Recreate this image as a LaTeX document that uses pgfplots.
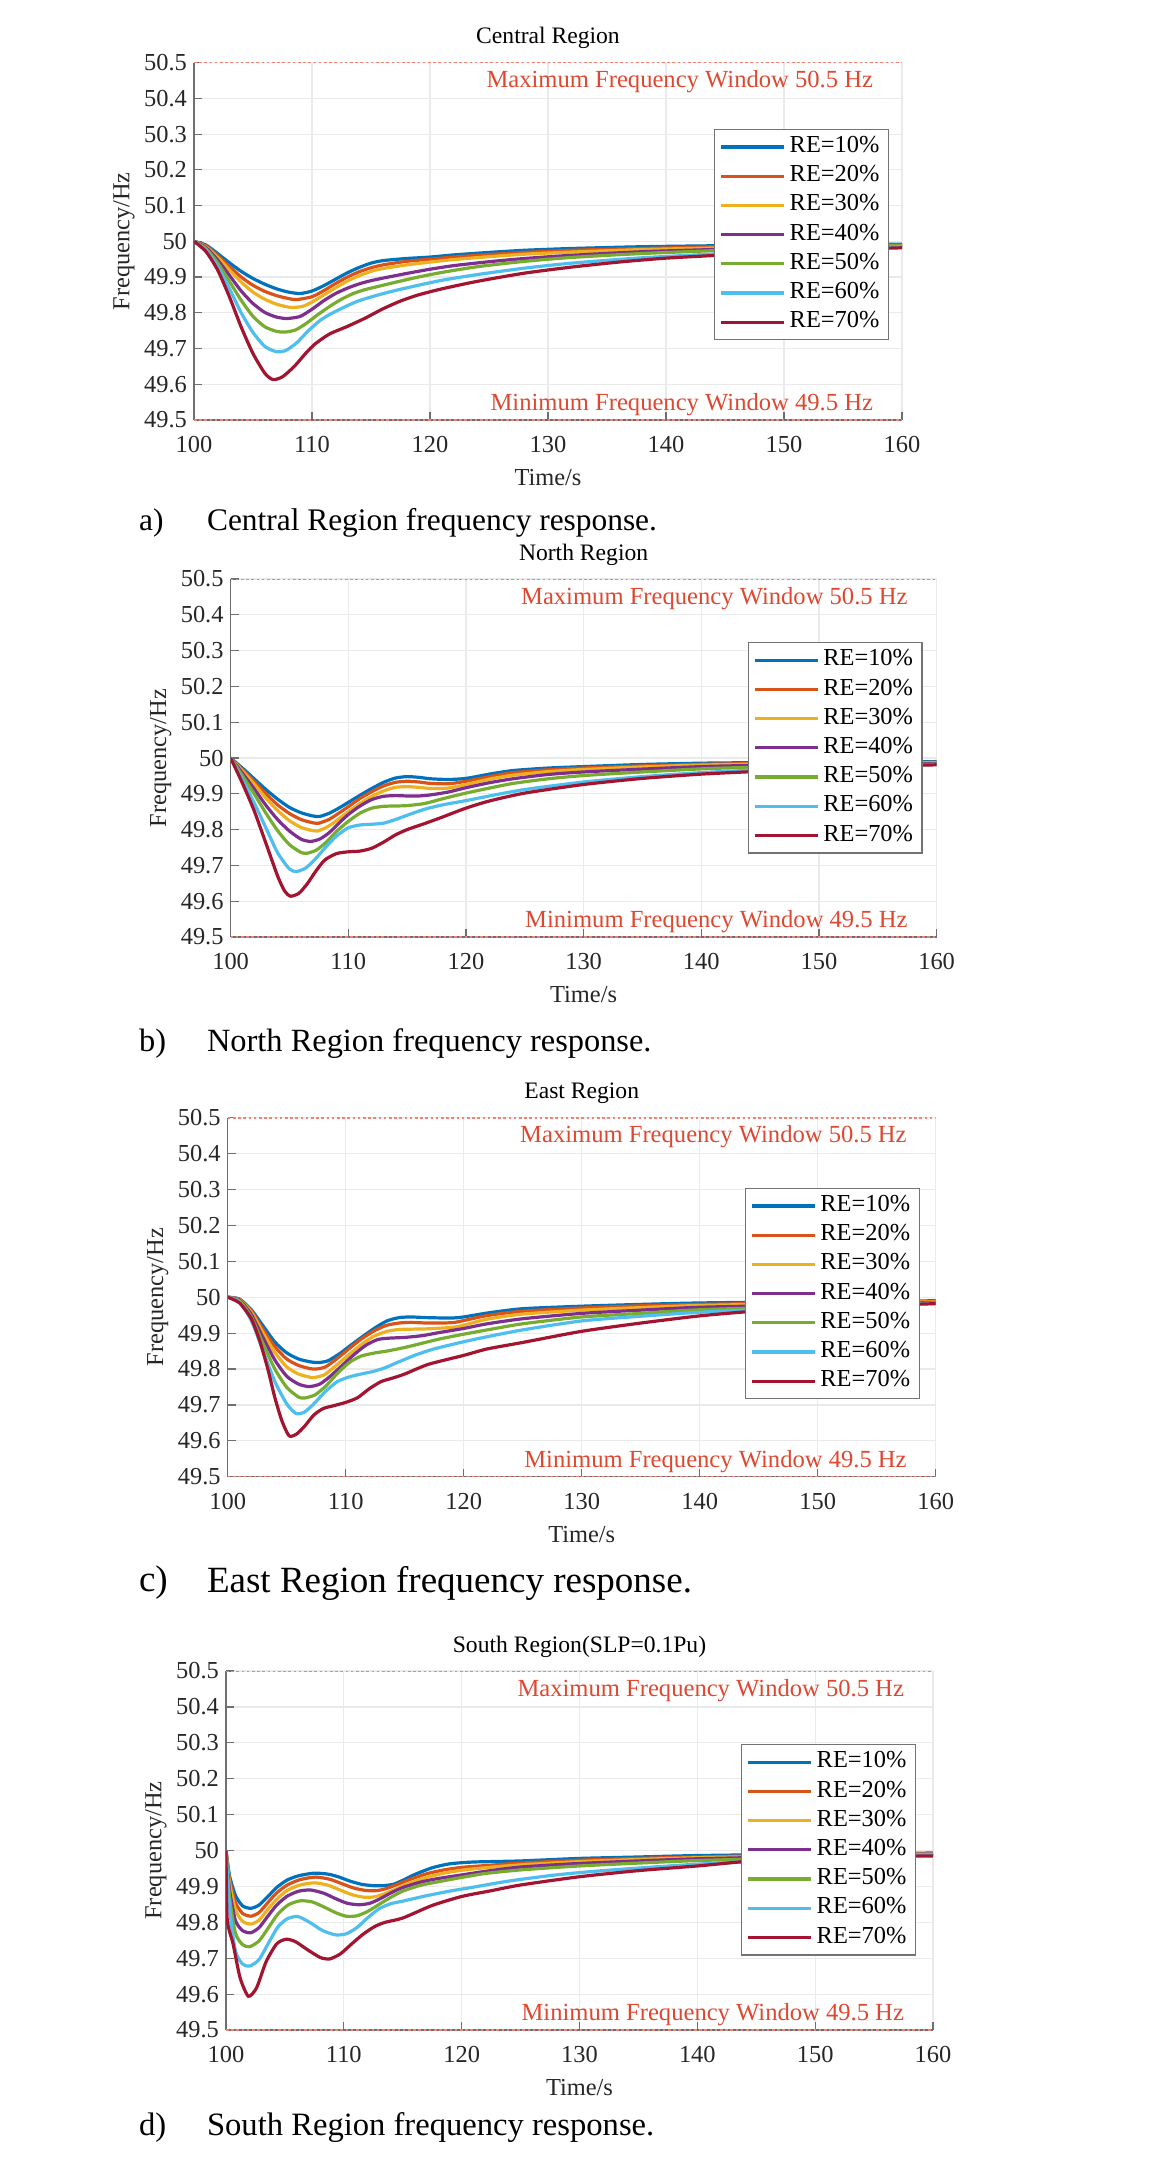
\documentclass[border=0pt]{standalone}
\usepackage{fontspec}
\setmainfont{Liberation Serif}
\usepackage{pgfplots}
\pgfplotsset{compat=1.18}
\definecolor{c1}{rgb}{0,0.447,0.741}
\definecolor{c2}{rgb}{0.85,0.325,0.098}
\definecolor{c3}{rgb}{0.929,0.694,0.125}
\definecolor{c4}{rgb}{0.494,0.184,0.556}
\definecolor{c5}{rgb}{0.466,0.674,0.188}
\definecolor{c6}{rgb}{0.301,0.745,0.933}
\definecolor{c7}{rgb}{0.635,0.078,0.184}
\definecolor{annot}{RGB}{222,72,48}
\definecolor{winline}{RGB}{240,130,120}
\definecolor{gridc}{RGB}{234,234,234}
\definecolor{axc}{RGB}{110,110,110}
\newcommand{\fs}{\fontsize{12.2}{14}\selectfont}
\pgfplotsset{
  cur/.style={line width=1.6pt, smooth, tension=0.4},
  win/.style={winline, line width=0.8pt, dash pattern=on 1.3pt off 1.3pt, forget plot},
  freq/.style={
    scale only axis, xmin=100, xmax=160, ymin=49.5, ymax=50.5,
    xtick={100,110,120,130,140,150,160},
    ytick={49.5,49.6,49.7,49.8,49.9,50,50.1,50.2,50.3,50.4,50.5},
    axis x line=bottom, axis y line=left,
    axis line style={-, draw=axc, line width=0.6pt},
    tick align=inside, major tick length=4pt, tick style={axc, line width=0.6pt},
    grid=major, major grid style={gridc, line width=0.6pt},
    clip mode=individual,
    /pgf/number format/assume math mode=true,
    ticklabel style={font=\fs, text=black!85},
    xticklabel style={yshift=-4.5pt},
    xlabel={Time/s}, ylabel={Frequency/Hz},
    every axis x label/.style={at={(axis description cs:0.5,-0.16)}, anchor=center, font=\fs, text=black!85},
    every axis y label/.style={at={(axis description cs:-0.099,0.5)}, rotate=90, anchor=center, font=\fs, text=black!85},
    every axis title/.style={at={(axis description cs:0.5,1)}, anchor=center, yshift=12.3pt, font=\fontsize{11.8}{14}\selectfont},
    legend cell align=left,
    legend image code/.code={\draw[##1] (0pt,0pt) -- (31.5pt,0pt);},
    legend style={anchor=north east, draw=black!55, line width=0.6pt, fill=white, font=\fs,
      inner xsep=2.5pt, inner ysep=1.5pt, row sep=0pt,
      nodes={inner xsep=2pt, inner ysep=1.5pt, text height=8.6pt, text depth=3pt}},
  },
}
\newcommand{\annots}{%
  \node[anchor=east, text=annot, font=\fontsize{12.3}{14}\selectfont] at (rel axis cs:1,1) [xshift=-11pt, yshift=-9.6pt] {Maximum Frequency Window 50.5 Hz};
  \node[anchor=east, text=annot, font=\fontsize{12.3}{14}\selectfont] at (rel axis cs:1,0) [xshift=-11pt, yshift=7.5pt] {Minimum Frequency Window 49.5 Hz};
  \addplot[win] coordinates {(100,50.5) (160,50.5)};
  \addplot[win] coordinates {(100,49.5) (160,49.5)};
  \legend{RE=10\%,RE=20\%,RE=30\%,RE=40\%,RE=50\%,RE=60\%,RE=70\%}%
}
\begin{document}
\begin{tikzpicture}
\useasboundingbox (0,0) rectangle (578pt,-1083.5pt);

% ---------------- a) Central
\begin{axis}[freq, at={(97pt,-210pt)}, anchor=south west, width=354pt, height=178.65pt,
  title={Central Region}, legend style={at={(1,1)}, xshift=-6.5pt, yshift=-33pt}]
\addplot[c1,cur] coordinates {(100,50)(101,49.99)(102,49.966)(103,49.94)(104,49.916)(105,49.896)(106,49.88)(107,49.867)(108,49.858)(109,49.854)(110,49.861)(111,49.876)(112,49.894)(113,49.912)(114,49.927)(115,49.939)(116,49.946)(118,49.952)(120,49.956)(122,49.962)(125,49.969)(128,49.975)(132,49.98)(138,49.985)(145,49.988)(152,49.99)(160,49.992)};
\addplot[c2,cur] coordinates {(100,50)(101,49.988)(102,49.96)(103,49.93)(104,49.9)(105,49.877)(106,49.86)(107,49.848)(108,49.84)(108.7,49.837)(110,49.845)(111,49.862)(112,49.882)(113,49.9)(114,49.915)(115,49.926)(116,49.934)(118,49.944)(120,49.95)(122,49.956)(125,49.963)(128,49.969)(132,49.975)(138,49.98)(145,49.985)(152,49.988)(160,49.99)};
\addplot[c3,cur] coordinates {(100,50)(101,49.985)(102,49.955)(103,49.92)(104,49.886)(105,49.858)(106,49.838)(107,49.824)(108.2,49.815)(109.2,49.818)(110,49.83)(111,49.85)(112,49.87)(113,49.889)(114,49.904)(115,49.916)(116,49.924)(118,49.934)(120,49.942)(122,49.949)(125,49.957)(128,49.964)(132,49.97)(138,49.977)(145,49.982)(152,49.986)(160,49.988)};
\addplot[c4,cur] coordinates {(100,50)(101,49.983)(102,49.948)(103,49.905)(104,49.861)(105,49.826)(106,49.801)(107,49.788)(107.9,49.784)(109,49.79)(110,49.81)(111,49.834)(112,49.854)(113,49.869)(114,49.881)(115,49.89)(116,49.897)(118,49.91)(120,49.922)(122,49.932)(125,49.943)(128,49.952)(132,49.961)(138,49.971)(145,49.978)(152,49.983)(160,49.987)};
\addplot[c5,cur] coordinates {(100,50)(101,49.98)(102,49.94)(103,49.888)(104,49.835)(105,49.79)(106,49.761)(107,49.748)(107.7,49.746)(108.6,49.752)(109.5,49.77)(110.5,49.795)(111.5,49.818)(112.5,49.838)(113.5,49.854)(114.5,49.865)(115.5,49.873)(117,49.885)(119,49.9)(121,49.913)(124,49.929)(128,49.944)(132,49.955)(138,49.966)(145,49.975)(152,49.982)(160,49.988)};
\addplot[c6,cur] coordinates {(100,50)(101,49.976)(102,49.93)(103,49.868)(104,49.8)(105,49.745)(106,49.706)(107,49.691)(107.8,49.695)(108.7,49.716)(109.7,49.75)(110.7,49.779)(111.7,49.799)(113,49.82)(114,49.834)(115.5,49.849)(117,49.862)(119,49.877)(121,49.891)(124,49.907)(128,49.925)(132,49.939)(138,49.954)(145,49.966)(152,49.976)(160,49.985)};
\addplot[c7,cur] coordinates {(100,50)(101,49.972)(102,49.92)(103,49.845)(104,49.76)(105,49.686)(106,49.631)(106.7,49.613)(107.5,49.621)(108.5,49.65)(109.5,49.688)(110.3,49.714)(111.5,49.741)(113,49.762)(114.5,49.785)(116,49.811)(117.5,49.833)(119,49.85)(121,49.867)(124,49.888)(128,49.911)(132,49.928)(136,49.942)(140,49.953)(145,49.962)(150,49.97)(155,49.977)(160,49.982)};
\annots
\end{axis}

% ---------------- b) North
\begin{axis}[freq, at={(115.3pt,-468.5pt)}, anchor=south west, width=353pt, height=179pt,
  title={North Region}, legend style={at={(1,1)}, xshift=-7pt, yshift=-31.5pt}]
\addplot[c1,cur] coordinates {(100,50)(101,49.972)(102,49.942)(103,49.912)(104,49.885)(105,49.862)(106,49.847)(107,49.838)(107.6,49.837)(108.4,49.846)(109.2,49.86)(110,49.876)(111,49.896)(112,49.915)(113,49.932)(114,49.944)(115,49.948)(116,49.946)(117,49.942)(118.5,49.94)(120,49.943)(122,49.955)(124,49.965)(127,49.972)(130,49.976)(135,49.982)(141,49.986)(150,49.988)(160,49.99)};
\addplot[c2,cur] coordinates {(100,50)(101,49.968)(102,49.935)(103,49.9)(104,49.869)(105,49.845)(106,49.828)(107,49.819)(107.5,49.818)(108.4,49.829)(109.2,49.846)(110,49.864)(111,49.887)(112,49.906)(113,49.922)(114,49.932)(115,49.935)(116,49.933)(117,49.929)(118.5,49.928)(120,49.935)(122,49.948)(124,49.959)(127,49.967)(130,49.972)(135,49.978)(141,49.983)(150,49.986)(160,49.988)};
\addplot[c3,cur] coordinates {(100,50)(101,49.964)(102,49.927)(103,49.888)(104,49.853)(105,49.825)(106,49.806)(107,49.797)(107.4,49.796)(108.3,49.809)(109.2,49.83)(110,49.85)(111,49.873)(112,49.893)(113,49.908)(114,49.918)(115,49.92)(116,49.918)(117,49.915)(118.5,49.916)(120,49.926)(122,49.941)(124,49.952)(127,49.962)(130,49.968)(135,49.975)(141,49.981)(150,49.985)(160,49.987)};
\addplot[c4,cur] coordinates {(100,50)(101,49.958)(102,49.914)(103,49.868)(104,49.828)(105,49.796)(106,49.773)(106.8,49.767)(107.6,49.774)(108.4,49.792)(109.2,49.818)(110,49.842)(111,49.866)(112,49.884)(113,49.893)(114,49.895)(115,49.894)(116,49.894)(117,49.897)(118.5,49.905)(120,49.917)(122,49.931)(124,49.942)(127,49.954)(130,49.961)(135,49.969)(141,49.977)(150,49.982)(160,49.985)};
\addplot[c5,cur] coordinates {(100,50)(101,49.951)(102,49.9)(103,49.846)(104,49.797)(105,49.758)(106,49.736)(106.5,49.734)(107.3,49.743)(108.2,49.767)(109,49.795)(110,49.823)(111,49.846)(112,49.86)(113,49.865)(114,49.866)(115,49.867)(116.5,49.873)(118,49.886)(120,49.902)(122,49.916)(124,49.929)(127,49.942)(130,49.951)(135,49.961)(141,49.971)(150,49.978)(160,49.983)};
\addplot[c6,cur] coordinates {(100,50)(101,49.94)(102,49.875)(103,49.805)(104,49.735)(105,49.69)(105.6,49.683)(106.4,49.693)(107.2,49.718)(108,49.748)(109,49.782)(110,49.805)(111,49.813)(112,49.815)(113,49.818)(114,49.828)(115,49.84)(116.5,49.857)(118,49.869)(120,49.881)(122,49.894)(125,49.912)(130,49.933)(135,49.948)(141,49.961)(150,49.973)(160,49.982)};
\addplot[c7,cur] coordinates {(100,50)(101,49.93)(102,49.853)(103,49.762)(104,49.67)(104.6,49.628)(105.1,49.614)(105.8,49.622)(106.5,49.648)(107.2,49.682)(108,49.715)(109,49.733)(110,49.738)(111,49.74)(112,49.748)(113,49.765)(114,49.785)(115,49.8)(116.5,49.817)(118,49.835)(120,49.86)(122,49.88)(125,49.902)(130,49.926)(135,49.943)(140,49.955)(145,49.963)(150,49.971)(155,49.977)(160,49.981)};
\annots
\end{axis}

% ---------------- c) East
\begin{axis}[freq, at={(113.85pt,-738.35pt)}, anchor=south west, width=354pt, height=179.5pt,
  title={East Region}, legend style={at={(1,1)}, xshift=-8pt, yshift=-35pt}]
\addplot[c1,cur] coordinates {(100,50)(101,49.995)(102,49.965)(103,49.92)(104,49.875)(105,49.845)(106,49.828)(107,49.82)(107.7,49.818)(108.5,49.823)(109.5,49.843)(110.5,49.868)(111.5,49.892)(112.5,49.915)(113.5,49.934)(114.5,49.943)(115.5,49.945)(117,49.943)(119,49.942)(120,49.945)(122,49.956)(125,49.968)(130,49.975)(135,49.98)(140,49.984)(150,49.988)(160,49.99)};
\addplot[c2,cur] coordinates {(100,50)(101,49.994)(102,49.962)(103,49.91)(104,49.862)(105,49.828)(106,49.81)(107,49.801)(107.5,49.8)(108.3,49.806)(109.3,49.83)(110.3,49.857)(111.3,49.883)(112.5,49.908)(113.5,49.922)(114.5,49.928)(115.5,49.93)(117,49.928)(119,49.929)(120,49.935)(122,49.949)(125,49.961)(130,49.97)(135,49.976)(140,49.98)(150,49.985)(160,49.988)};
\addplot[c3,cur] coordinates {(100,50)(101,49.993)(102,49.958)(103,49.9)(104,49.846)(105,49.806)(106,49.786)(107,49.777)(107.3,49.776)(108.2,49.784)(109.2,49.81)(110.2,49.838)(111.2,49.865)(112.3,49.89)(113.5,49.905)(114.5,49.91)(115.5,49.911)(117,49.912)(119,49.916)(120,49.922)(122,49.939)(125,49.953)(130,49.964)(135,49.971)(140,49.977)(150,49.983)(160,49.987)};
\addplot[c4,cur] coordinates {(100,50)(101,49.992)(102,49.952)(103,49.887)(104,49.825)(105,49.78)(106,49.758)(106.9,49.751)(107.8,49.758)(108.7,49.78)(109.7,49.81)(110.7,49.84)(111.7,49.866)(112.7,49.882)(113.7,49.886)(115,49.888)(116.5,49.893)(118,49.902)(120,49.913)(122,49.926)(125,49.94)(130,49.955)(135,49.964)(140,49.972)(150,49.979)(160,49.985)};
\addplot[c5,cur] coordinates {(100,50)(101,49.99)(102,49.945)(103,49.87)(104,49.8)(105,49.749)(106,49.722)(106.5,49.719)(107.4,49.728)(108.3,49.752)(109.3,49.788)(110.3,49.818)(111.3,49.836)(112.5,49.845)(113.5,49.85)(115,49.86)(116.5,49.872)(118,49.884)(120,49.897)(122,49.909)(125,49.926)(130,49.945)(135,49.955)(140,49.965)(150,49.975)(160,49.983)};
\addplot[c6,cur] coordinates {(100,50)(101,49.987)(102,49.935)(103,49.85)(104,49.765)(105,49.703)(105.8,49.676)(106.5,49.68)(107.3,49.703)(108.3,49.738)(109.3,49.765)(110.3,49.778)(111.3,49.786)(112.3,49.793)(113.3,49.803)(114.5,49.82)(116,49.84)(117.5,49.856)(120,49.876)(122,49.89)(125,49.909)(130,49.934)(135,49.947)(140,49.958)(150,49.973)(160,49.984)};
\addplot[c7,cur] coordinates {(100,50)(101,49.984)(102,49.94)(102.7,49.88)(103.4,49.8)(104,49.72)(104.6,49.655)(105.2,49.614)(105.8,49.618)(106.5,49.64)(107.3,49.672)(108.1,49.69)(109,49.698)(110,49.707)(111,49.72)(112,49.745)(113,49.765)(114,49.775)(115,49.786)(117,49.813)(120,49.838)(122,49.856)(125,49.874)(130,49.905)(135,49.928)(140,49.948)(145,49.962)(150,49.97)(155,49.977)(160,49.982)};
\annots
\end{axis}

% ---------------- d) South
\begin{axis}[freq, at={(113pt,-1015pt)}, anchor=south west, width=353.5pt, height=179.5pt,
  title={South Region(SLP=0.1Pu)}, legend style={at={(1,1)}, xshift=-8.5pt, yshift=-36.5pt}]
\addplot[c1,cur] coordinates {(100,50)(100.3,49.93)(100.8,49.875)(101.4,49.846)(102.1,49.839)(102.8,49.848)(103.5,49.87)(104.3,49.897)(105.2,49.918)(106.2,49.93)(107.5,49.937)(108.7,49.934)(109.6,49.926)(110.5,49.915)(111.5,49.906)(112.5,49.902)(113.3,49.902)(114.2,49.906)(115,49.917)(116,49.933)(117.5,49.952)(119,49.963)(121,49.968)(125,49.971)(130,49.978)(135,49.982)(140,49.986)(150,49.99)(160,49.993)};
\addplot[c2,cur] coordinates {(100,50)(100.3,49.92)(100.8,49.855)(101.4,49.825)(102.1,49.817)(102.8,49.827)(103.5,49.853)(104.3,49.882)(105.2,49.904)(106.3,49.919)(107.6,49.926)(108.8,49.92)(109.8,49.908)(110.8,49.896)(111.8,49.889)(112.7,49.888)(113.5,49.893)(114.5,49.905)(115.5,49.918)(117,49.935)(118.5,49.946)(120,49.953)(122,49.958)(125,49.965)(130,49.973)(135,49.978)(140,49.982)(150,49.988)(160,49.991)};
\addplot[c3,cur] coordinates {(100,50)(100.3,49.91)(100.8,49.835)(101.4,49.803)(102.1,49.795)(102.8,49.806)(103.5,49.834)(104.3,49.864)(105.2,49.889)(106.3,49.904)(107.5,49.91)(108.6,49.904)(109.6,49.891)(110.7,49.877)(111.7,49.87)(112.6,49.871)(113.5,49.88)(114.5,49.894)(115.5,49.908)(117,49.925)(118.5,49.937)(120,49.945)(122,49.952)(125,49.96)(130,49.969)(135,49.975)(140,49.98)(150,49.986)(160,49.99)};
\addplot[c4,cur] coordinates {(100,50)(100.3,49.89)(100.8,49.805)(101.4,49.777)(102.1,49.771)(102.8,49.785)(103.5,49.815)(104.3,49.848)(105.2,49.873)(106.2,49.887)(107.2,49.89)(108.3,49.881)(109.3,49.866)(110.3,49.853)(111.3,49.849)(112.2,49.853)(113.1,49.866)(114,49.882)(115,49.897)(116.5,49.912)(118,49.922)(120,49.932)(122,49.942)(125,49.954)(130,49.964)(135,49.971)(140,49.977)(150,49.984)(160,49.99)};
\addplot[c5,cur] coordinates {(100,50)(100.3,49.87)(100.8,49.77)(101.4,49.738)(102,49.732)(102.8,49.748)(103.6,49.785)(104.4,49.823)(105.3,49.849)(106.3,49.86)(107.3,49.857)(108.3,49.843)(109.3,49.827)(110.2,49.817)(111.1,49.818)(112,49.83)(113,49.85)(114,49.87)(115,49.887)(116.5,49.903)(118,49.913)(120,49.925)(122,49.936)(125,49.946)(130,49.957)(135,49.965)(140,49.972)(150,49.981)(160,49.988)};
\addplot[c6,cur] coordinates {(100,50)(100.3,49.84)(100.8,49.72)(101.4,49.684)(102,49.678)(102.8,49.696)(103.6,49.742)(104.4,49.787)(105.2,49.81)(106.1,49.816)(107.1,49.8)(108.2,49.777)(109.3,49.765)(110.2,49.768)(111.1,49.785)(112,49.812)(113,49.838)(114,49.852)(115,49.859)(117,49.874)(119,49.887)(121,49.898)(124,49.915)(128,49.932)(132,49.944)(140,49.962)(150,49.978)(160,49.99)};
\addplot[c7,cur] coordinates {(100,50)(100.1,49.81)(100.6,49.74)(101.2,49.645)(101.9,49.594)(102.6,49.618)(103.4,49.69)(104.3,49.74)(105.1,49.753)(105.9,49.746)(106.9,49.724)(108,49.702)(108.8,49.698)(109.7,49.712)(110.6,49.738)(111.6,49.766)(112.6,49.788)(113.5,49.8)(115,49.812)(117.5,49.847)(120,49.872)(122.5,49.888)(125,49.904)(130,49.927)(135,49.944)(140,49.957)(145,49.972)(150,49.978)(155,49.983)(160,49.985)};
\annots
\end{axis}

% ---------------- captions
\node[anchor=west, font=\fontsize{15.7}{18}\selectfont] at (66pt,-261.5pt) {a)};
\node[anchor=west, font=\fontsize{15.7}{18}\selectfont] at (100pt,-261.5pt) {Central Region frequency response.};
\node[anchor=west, font=\fontsize{16.2}{18}\selectfont] at (66pt,-522pt) {b)};
\node[anchor=west, font=\fontsize{16.2}{18}\selectfont] at (100pt,-522pt) {North Region frequency response.};
\node[anchor=west, font=\fontsize{18.5}{20}\selectfont] at (66pt,-791.5pt) {c)};
\node[anchor=west, font=\fontsize{18.5}{20}\selectfont] at (100pt,-791.5pt) {East Region frequency response.};
\node[anchor=west, font=\fontsize{16.3}{18}\selectfont] at (66pt,-1064pt) {d)};
\node[anchor=west, font=\fontsize{16.3}{18}\selectfont] at (100pt,-1064pt) {South Region frequency response.};
\end{tikzpicture}
\end{document}
